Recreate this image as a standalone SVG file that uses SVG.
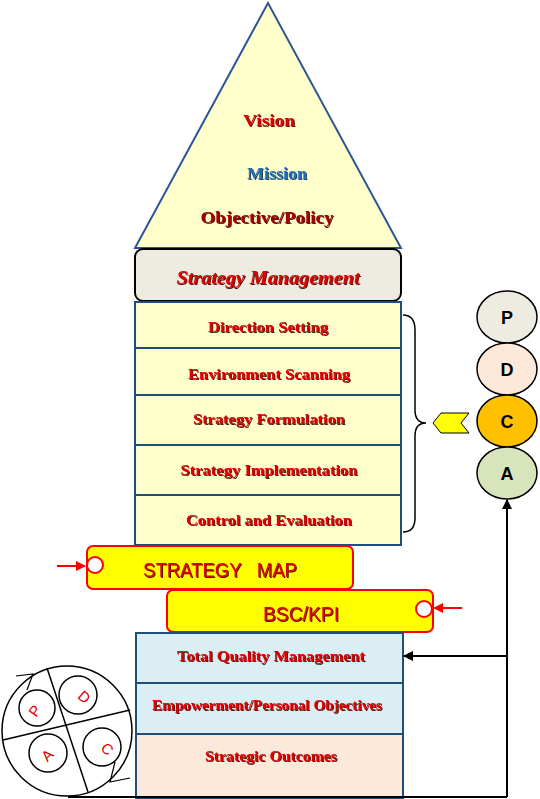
<svg xmlns="http://www.w3.org/2000/svg" width="540" height="799" viewBox="0 0 540 799">
<defs>
<filter id="sh" x="-5%" y="-20%" width="110%" height="140%"><feDropShadow dx="1" dy="1" stdDeviation="0" flood-color="#3a0000" flood-opacity="0.9"/></filter>
<filter id="shb" x="-5%" y="-20%" width="110%" height="140%"><feDropShadow dx="1" dy="1" stdDeviation="0" flood-color="#0a2a50" flood-opacity="0.9"/></filter>
<marker id="ab" markerWidth="10" markerHeight="10" refX="9" refY="5" orient="auto" markerUnits="userSpaceOnUse"><path d="M0,0 L10,5 L0,10 Z" fill="#000"/></marker>
<marker id="ar" markerWidth="10" markerHeight="10" refX="9" refY="5" orient="auto" markerUnits="userSpaceOnUse"><path d="M0,0 L10,5 L0,10 Z" fill="#f00"/></marker>
</defs>
<style>
.st{font-family:"Liberation Serif",serif;font-weight:bold;text-anchor:middle;fill:#e00000;filter:url(#sh)}
.box{fill:#FFFFCC;stroke:#1F4E79;stroke-width:2}
.bx2{fill:#DAEEF3;stroke:#1F4E79;stroke-width:2}
.pill{fill:#FFFF00;stroke:#FF0000;stroke-width:2}
.hole{fill:#fff;stroke:#FF0000;stroke-width:2}
.pl{font-family:"Liberation Sans",Arial,sans-serif;font-size:20px;text-anchor:middle;fill:#e00000;filter:url(#sh);white-space:pre}
.pd{stroke:#000;stroke-width:1.5}
.pt{font-family:"Liberation Sans",Arial,sans-serif;font-weight:bold;font-size:18px;text-anchor:middle;fill:#000}
.sm{fill:none;stroke:#000;stroke-width:1.5}
.sl{font-family:"Liberation Sans",Arial,sans-serif;font-size:15px;text-anchor:middle;fill:#e00000}
</style>
<g id="pyramid">
<polygon points="268,3 135,248 401,248" fill="#FFFFCC" stroke="#2F5597" stroke-width="2"/>
<text class="st" x="269" y="126" font-size="17" textLength="52" lengthAdjust="spacingAndGlyphs">Vision</text>
<text class="st" x="277" y="179" font-size="17" textLength="60" lengthAdjust="spacingAndGlyphs" style="fill:#1F6FB8;filter:url(#shb)">Mission</text>
<text class="st" x="267" y="223" font-size="17" textLength="133" lengthAdjust="spacingAndGlyphs" style="fill:#A00000">Objective/Policy</text>
</g>
<g id="strategy-management">
<rect x="135" y="249" width="266" height="52" rx="8" fill="#EEEBE0" stroke="#000" stroke-width="2"/>
<text class="st" x="268" y="284" font-size="18" font-style="italic" textLength="183" lengthAdjust="spacingAndGlyphs">Strategy  Management</text>
</g>
<g id="direction-setting"><rect class="box" x="135" y="302" width="266" height="46"/><text class="st" x="268" y="332" font-size="15" textLength="120" lengthAdjust="spacingAndGlyphs">Direction Setting</text></g>
<g id="environment-scanning"><rect class="box" x="135" y="348" width="266" height="47"/><text class="st" x="269" y="379" font-size="15" textLength="162" lengthAdjust="spacingAndGlyphs">Environment Scanning</text></g>
<g id="strategy-formulation"><rect class="box" x="135" y="395" width="266" height="50"/><text class="st" x="269" y="424" font-size="15" textLength="152" lengthAdjust="spacingAndGlyphs">Strategy Formulation</text></g>
<g id="strategy-implementation"><rect class="box" x="135" y="445" width="266" height="50"/><text class="st" x="269" y="475" font-size="15" textLength="177" lengthAdjust="spacingAndGlyphs">Strategy Implementation</text></g>
<g id="control-evaluation"><rect class="box" x="135" y="495" width="266" height="50"/><text class="st" x="269" y="525" font-size="15" textLength="166" lengthAdjust="spacingAndGlyphs">Control and Evaluation</text></g>
<g id="brace"><path d="M403,315 Q415,315 415,330 L415,410 Q415,423 426,423 Q415,423 415,436 L415,518 Q415,532 403,532" fill="none" stroke="#000" stroke-width="1.5"/></g>
<g id="chevron"><polygon points="433,423 441,413 469,413 461,423 469,433 441,433" fill="#FFFF00" stroke="#000" stroke-width="1"/></g>
<g id="P"><ellipse cx="507" cy="317" rx="30" ry="26" fill="#EEECE1" stroke="#000" stroke-width="1.5"/><text class="pt" x="507" y="324">P</text></g>
<g id="D"><ellipse cx="507" cy="369" rx="30" ry="26" fill="#FCE9D9" stroke="#000" stroke-width="1.5"/><text class="pt" x="507" y="376">D</text></g>
<g id="C"><ellipse cx="507" cy="421" rx="30" ry="26" fill="#FFC000" stroke="#000" stroke-width="1.5"/><text class="pt" x="507" y="428">C</text></g>
<g id="A"><ellipse cx="507" cy="473" rx="30" ry="26" fill="#D8E4BC" stroke="#000" stroke-width="1.5"/><text class="pt" x="507" y="480">A</text></g>
<g id="strategy-map"><rect class="pill" x="87" y="546" width="266" height="43" rx="6"/><circle class="hole" cx="95" cy="565" r="8"/><text class="pl" x="220" y="577" textLength="154" lengthAdjust="spacingAndGlyphs">STRATEGY   MAP</text></g>
<g id="bsc-kpi"><rect class="pill" x="167" y="590" width="266" height="42" rx="6"/><circle class="hole" cx="424" cy="609" r="8"/><text class="pl" x="301" y="621" textLength="76" lengthAdjust="spacingAndGlyphs">BSC/KPI</text></g>
<g id="tqm"><rect class="bx2" x="136" y="633" width="267" height="50"/><text class="st" x="271" y="661" font-size="15" textLength="188" lengthAdjust="spacingAndGlyphs">Total Quality Management</text></g>
<g id="empowerment"><rect class="bx2" x="136" y="683" width="267" height="51"/><text class="st" x="267" y="710" font-size="14" textLength="230" lengthAdjust="spacingAndGlyphs">Empowerment/Personal Objectives</text></g>
<g id="outcomes"><rect x="136" y="734" width="267" height="64" fill="#FCE9D9" stroke="#1F4E79" stroke-width="2"/><text class="st" x="271" y="761" font-size="14" textLength="132" lengthAdjust="spacingAndGlyphs">Strategic  Outcomes</text></g>
<g id="pdca-cycle">
<circle cx="67" cy="731" r="65" fill="#fff" stroke="#000" stroke-width="1.5"/>
<line class="pd" x1="47" y1="668" x2="88" y2="792"/>
<line class="pd" x1="3" y1="740" x2="130" y2="710"/>
<circle class="sm" cx="37" cy="708" r="18"/>
<circle class="sm" cx="78" cy="695" r="19"/>
<circle class="sm" cx="48" cy="753" r="19"/>
<circle class="sm" cx="102" cy="747" r="19"/>
<text class="sl" transform="translate(39,714) rotate(-55)">P</text>
<text class="sl" transform="translate(81,701) rotate(40)">D</text>
<text class="sl" transform="translate(51,759) rotate(-45)">A</text>
<text class="sl" transform="translate(104,753) rotate(40)">C</text>
<path d="M16,676 L33,674 L27,690" fill="none" stroke="#000" stroke-width="1.2"/>
<path d="M130,778 L110,782 L115,762" fill="none" stroke="#000" stroke-width="1.2"/>
</g>
<g id="connectors">
<line x1="68" y1="797" x2="507" y2="797" stroke="#000" stroke-width="2"/>
<line x1="507" y1="797" x2="507" y2="500" stroke="#000" stroke-width="2" marker-end="url(#ab)"/>
<line x1="507" y1="656" x2="404" y2="656" stroke="#000" stroke-width="2" marker-end="url(#ab)"/>
<line x1="57" y1="566" x2="85" y2="566" stroke="#f00" stroke-width="2" marker-end="url(#ar)"/>
<line x1="462" y1="608" x2="434" y2="608" stroke="#f00" stroke-width="2" marker-end="url(#ar)"/>
</g>
</svg>
